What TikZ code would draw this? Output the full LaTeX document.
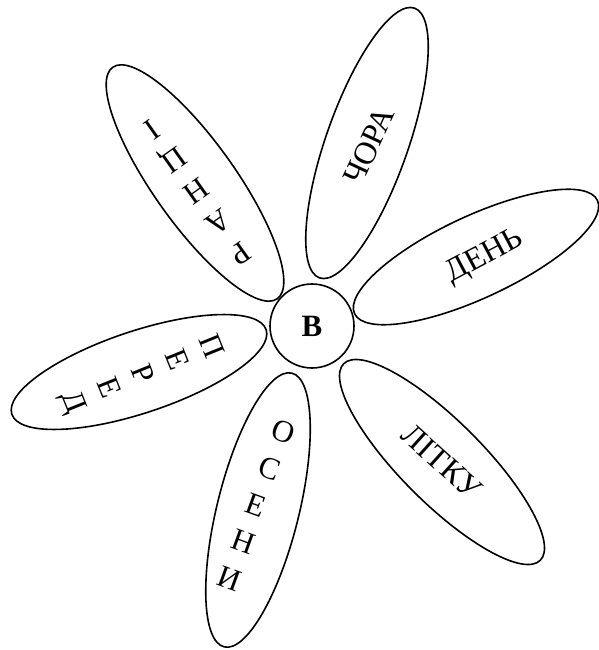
\documentclass[tikz,border=0pt]{standalone}
\usepackage{fontspec}
\setmainfont{Liberation Serif}
\usetikzlibrary{shapes.geometric,calc}
\begin{document}
\begin{tikzpicture}[x=1pt,y=1pt,
  petal/.style={draw, ellipse, line width=1.6pt, inner sep=0pt, minimum height=82pt},
  word/.style={font=\fontsize{32}{34}\selectfont, inner sep=0pt},
  letter/.style={font=\fontsize{31}{33}\selectfont, inner sep=0pt, text height=0.66em, text depth=0pt},
  hub/.style={draw, circle, line width=1.6pt, fill=white, minimum size=84pt, inner sep=0pt, font=\fontsize{31}{33}\selectfont\bfseries}]
\useasboundingbox (0,0) rectangle (598,-650);
% petals
\node[petal, rotate=125.4, minimum width=284pt] (p1) at (195,-183) {};
\node[petal, rotate=70.6, minimum width=286pt] (p2) at (367,-143) {};
\node[petal, rotate=25, minimum width=268pt] (p3) at (476,-257) {};
\node[petal, rotate=-45, minimum width=278pt] (p4) at (442,-462) {};
\node[petal, rotate=76.1, minimum width=282pt] (p5) at (258,-510) {};
\node[petal, rotate=18.4, minimum width=268pt] (p6) at (139,-372) {};
% hub
\node[hub] (c) at (312,-326) {В};
% words along petals
\node[word, rotate=65] (w2) at (369,-146) {ЧОРА};
\node[word, rotate=28] (w3) at (485,-257) {ДЕНЬ};
\node[word, rotate=-42] (w4) at (442,-462) {ЛІТКУ};
% stacked letters: РАНЦІ
\coordinate (k1) at (192,-186);
\node[letter, rotate=-144.6] (a1) at ($(k1)+(-54.6:76)$) {Р};
\node[letter, rotate=-144.6] (a2) at ($(k1)+(-54.6:38)$) {А};
\node[letter, rotate=-144.6] (a3) at (k1) {Н};
\node[letter, rotate=-144.6] (a4) at ($(k1)+(125.4:38)$) {Ц};
\node[letter, rotate=-144.6] (a5) at ($(k1)+(125.4:76)$) {І};
% ОСЕНИ
\coordinate (k5) at (254,-512);
\node[letter, rotate=-20] (b1) at ($(k5)+(70:78)$) {О};
\node[letter, rotate=-20] (b2) at ($(k5)+(70:39)$) {С};
\node[letter, rotate=-20] (b3) at (k5) {Е};
\node[letter, rotate=-20] (b4) at ($(k5)+(250:39)$) {Н};
\node[letter, rotate=-20] (b5) at ($(k5)+(250:78)$) {И};
% ПЕРЕД
\coordinate (k6) at (137,-376);
\node[letter, rotate=-68] (d1) at ($(k6)+(21.9:74)$) {П};
\node[letter, rotate=-68] (d2) at ($(k6)+(21.9:37)$) {Е};
\node[letter, rotate=-68] (d3) at (k6) {Р};
\node[letter, rotate=-68] (d4) at ($(k6)+(201.9:37)$) {Е};
\node[letter, rotate=-68] (d5) at ($(k6)+(201.9:74)$) {Д};
\end{tikzpicture}
\end{document}
